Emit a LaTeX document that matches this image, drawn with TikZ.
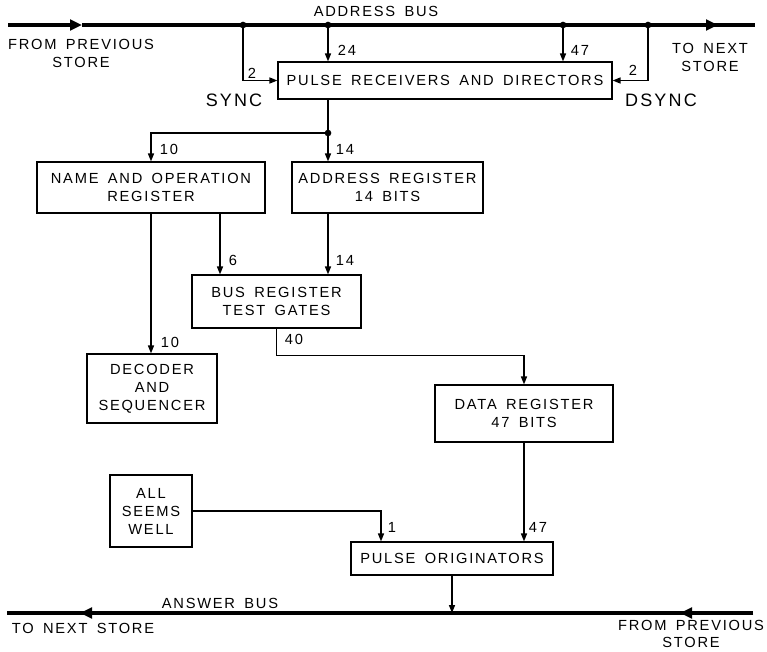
\documentclass[tikz,border=0pt]{standalone}
\usepackage{fontspec}
\setmainfont{Liberation Sans}[LetterSpace=12, WordSpace=1.6]
\usetikzlibrary{arrows.meta}
\newcommand\lettr{\fontsize{11}{13.5}\selectfont}
\newcommand\biglettr{\fontsize{13.5}{16}\selectfont}
\tikzset{
  box/.style={draw, line width=0.85pt, inner sep=0pt, align=center, font=\lettr},
  link/.style={line width=1.1pt, -{Triangle[length=6pt,width=4.5pt]}},
  wire/.style={line width=1.1pt},
  bus/.style={line width=3pt},
  busarrow/.style={bus, -{Triangle[length=9pt,width=8pt]}},
  dot/.style={circle, fill, inner sep=0pt, minimum size=5pt},
  lbl/.style={inner sep=0pt, align=center, font=\lettr},
}
\begin{document}
\begin{tikzpicture}[x=0.75pt, y=-0.75pt]
  \useasboundingbox (0,0) rectangle (767,651);
  % address bus
  \coordinate (abW) at (8,25);
  \coordinate (abA) at (82,25);
  \coordinate (abB) at (718,25);
  \coordinate (abE) at (755,25);
  \draw[busarrow] (abW) -- (abA);
  \draw[bus] (abA) -- (abE);
  \draw[busarrow] (abA) -- (abB);
  \node[dot] (d1) at (243,25) {};
  \node[dot] (d24) at (328,25) {};
  \node[dot] (d47) at (563,25) {};
  \node[dot] (d4) at (648,25) {};
  \node[lbl] (lAbus) at (376,11) {ADDRESS BUS};
  \node[lbl] (lFromA) at (81,53) {FROM PREVIOUS\\STORE};
  \node[lbl] (lToA) at (710,57) {TO NEXT\\STORE};
  % boxes
  \node[box, minimum width=250.5pt, minimum height=27.75pt] (prd) at (445,80.5) {PULSE RECEIVERS AND DIRECTORS};
  \node[box, minimum width=171pt, minimum height=38.25pt] (nor) at (151,187.5) {NAME AND OPERATION\\REGISTER};
  \node[box, minimum width=143.25pt, minimum height=38.25pt] (areg) at (387.5,187.5) {ADDRESS REGISTER\\14 BITS};
  \node[box, minimum width=126.75pt, minimum height=39.75pt] (breg) at (276.5,301.5) {BUS REGISTER\\TEST GATES};
  \node[box, minimum width=97.5pt, minimum height=51.75pt] (dec) at (152,388.5) {DECODER\\AND\\SEQUENCER};
  \node[box, minimum width=133.5pt, minimum height=42.75pt] (dreg) at (524,413.5) {DATA REGISTER\\47 BITS};
  \node[box, minimum width=61.5pt, minimum height=54pt] (asw) at (151,511) {ALL\\SEEMS\\WELL};
  \node[box, minimum width=151.5pt, minimum height=24.75pt] (porig) at (452,558.5) {PULSE ORIGINATORS};
  % bus to receivers
  \draw[link] (d1.center) |- (prd.west);
  \draw[link] (d4.center) |- (prd.east);
  \draw[link] (d24.center) -- (d24 |- prd.north);
  \draw[link] (d47.center) -- (d47 |- prd.north);
  \node[lbl] (lS2) at (252,73) {2};
  \node[lbl, font=\biglettr] (lSync) at (234,100) {SYNC};
  \node[lbl] (l24) at (347,50) {24};
  \node[lbl] (l47a) at (580,50) {47};
  \node[lbl] (lD2) at (633,70) {2};
  \node[lbl, font=\biglettr] (lDsync) at (661,100) {DSYNC};
  % receivers to registers
  \node[dot] (j) at (328,133) {};
  \draw[wire] (j |- prd.south) -- (j.center);
  \draw[link] (j.center) -| (nor.north);
  \draw[link] (j.center) -- (j |- areg.north);
  \node[lbl] (l10a) at (169,149) {10};
  \node[lbl] (l14a) at (345,149) {14};
  \coordinate (n6) at (220,0);
  \draw[link] (n6 |- nor.south) -- (n6 |- breg.north);
  \draw[link] (j |- areg.south) -- (j |- breg.north);
  \draw[link] (nor.south) -- (nor.south |- dec.north);
  \node[lbl] (l6) at (233,260) {6};
  \node[lbl] (l14b) at (345,260) {14};
  \node[lbl] (l10b) at (170,342) {10};
  % bus register to data register
  \draw[link] (breg.south) -- ++(0,27) -| (dreg.north);
  \node[lbl] (l40) at (294,339) {40};
  % to pulse originators
  \coordinate (p1) at (381,0);
  \draw[link] (asw.east) -| (p1 |- porig.north);
  \draw[link] (dreg.south) -- (dreg.south |- porig.north);
  \node[lbl] (l1) at (392,527) {1};
  \node[lbl] (l47b) at (538,527) {47};
  % answer bus
  \coordinate (ansE) at (753,613);
  \coordinate (ansB) at (680,613);
  \coordinate (ansA) at (80,613);
  \coordinate (ansW) at (7,613);
  \draw[bus] (ansE) -- (ansW);
  \draw[busarrow] (ansE) -- (ansB);
  \draw[busarrow] (ansB) -- (ansA);
  \draw[link] (porig.south) -- (porig.south |- ansE);
  \node[lbl] (lAns) at (220,603) {ANSWER BUS};
  \node[lbl] (lToN) at (83,628) {TO NEXT STORE};
  \node[lbl, font=\fontsize{11}{12.5}\selectfont] (lFromN) at (691,634) {FROM PREVIOUS\\STORE};
\end{tikzpicture}
\end{document}
